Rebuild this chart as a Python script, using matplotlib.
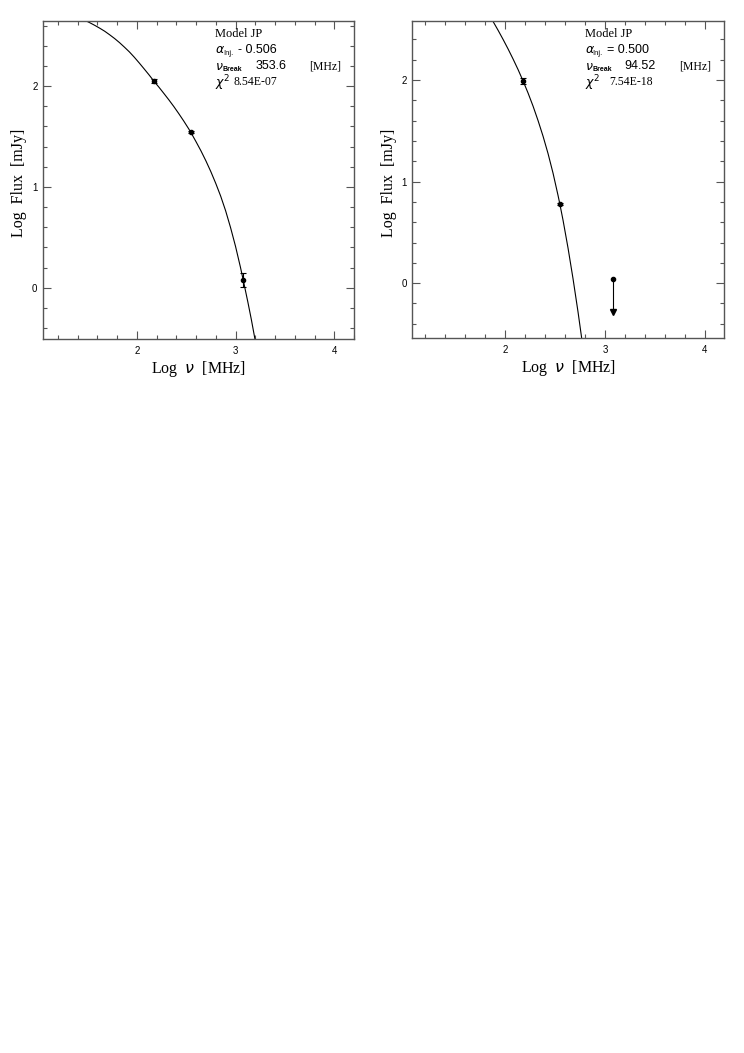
"""
Synchrotron spectra with JP model fits, two components side by side.
"""

import numpy as np
import matplotlib.pyplot as plt
from matplotlib.ticker import MultipleLocator

# ---- data ---------------------------------------------------------------
# left panel
left_nu = [2.175, 2.545, 3.077]
left_flux = [2.047, 1.544, 0.076]
left_err = [0.02, 0.01, 0.07]
left_model_x = [1.46, 1.525, 1.575, 1.625, 1.675, 1.725, 1.775, 1.825, 1.875,
                1.925, 1.975, 2.025, 2.075, 2.125, 2.175, 2.225, 2.275, 2.325,
                2.375, 2.425, 2.475, 2.525, 2.545, 2.60, 2.65, 2.70, 2.75,
                2.80, 2.85, 2.90, 2.95, 3.00, 3.05, 3.077, 3.125, 3.16, 3.20]
left_model_y = [2.659, 2.628, 2.602, 2.574, 2.544, 2.509, 2.472, 2.431, 2.386,
                2.339, 2.286, 2.229, 2.170, 2.110, 2.047, 1.988, 1.926, 1.863,
                1.797, 1.727, 1.654, 1.577, 1.545, 1.448, 1.357, 1.258, 1.151,
                1.034, 0.907, 0.762, 0.595, 0.410, 0.202, 0.080, -0.143,
                -0.315, -0.527]

# right panel
right_nu = [2.18, 2.547]
right_flux = [1.99, 0.778]
right_err = [0.03, 0.01]
right_lim_nu = [3.08]
right_lim_top = [0.04]
right_lim_bottom = [-0.28]
right_model_x = [1.83, 1.88, 1.93, 1.98, 2.03, 2.08, 2.13, 2.18, 2.23, 2.28,
                 2.33, 2.38, 2.43, 2.48, 2.53, 2.547, 2.58, 2.63, 2.68, 2.73,
                 2.78]
right_model_y = [2.657, 2.575, 2.489, 2.399, 2.305, 2.206, 2.102, 1.99, 1.871,
                 1.742, 1.600, 1.446, 1.275, 1.082, 0.863, 0.783, 0.619, 0.345,
                 0.043, -0.284, -0.637]

labels_left = dict(alpha="0.506", brk="353.6", chi="8.54E-07", sign="-",
                   x_alpha=0.627, x_chi=0.612)
labels_right = dict(alpha="0.500", brk="94.52", chi="7.54E-18", sign="=",
                    x_alpha=0.624, x_chi=0.631)

SERIF = ["Liberation Serif", "DejaVu Serif"]
SANS = ["Liberation Sans", "DejaVu Sans"]
FRAME = "#555555"


def style_axes(ax, xlim, ylim):
    ax.set_xlim(*xlim)
    ax.set_ylim(*ylim)
    ax.xaxis.set_major_locator(MultipleLocator(1))
    ax.yaxis.set_major_locator(MultipleLocator(1))
    ax.xaxis.set_minor_locator(MultipleLocator(0.2))
    ax.yaxis.set_minor_locator(MultipleLocator(0.2))
    ax.tick_params(which="both", direction="in", top=True, right=True,
                   color=FRAME, width=0.8)
    ax.tick_params(which="major", length=6, labelsize=7)
    ax.tick_params(axis="x", which="major", pad=5)
    ax.tick_params(axis="y", which="major", pad=4)
    ax.tick_params(which="minor", length=3)
    for lab in ax.get_xticklabels() + ax.get_yticklabels():
        lab.set_family(SANS)
    for sp in ax.spines.values():
        sp.set_color(FRAME)
        sp.set_linewidth(1.0)
    ax.set_xlabel(r"Log  $\nu$  [MHz]", family=SERIF, fontsize=11.5)
    ax.set_ylabel("Log  Flux  [mJy]", family=SERIF, fontsize=11.5)
    ax.xaxis.set_label_coords(0.5, -0.062)
    ax.yaxis.set_label_coords(-0.05, 0.49)


def model_text(ax, info, x0=0.553):
    t = ax.transAxes
    ax.text(x0, 0.959, "Model JP", transform=t, family=SERIF, fontsize=9,
            va="center")
    # alpha injection
    ax.text(x0, 0.909, r"$\alpha$", transform=t, fontsize=9, va="center")
    ax.text(x0 + 0.026, 0.897, "Inj.", transform=t, family=SANS,
            fontsize=5.5, va="center")
    ax.text(info["x_alpha"], 0.909, info["sign"] + " " + info["alpha"],
            transform=t, family=SANS, fontsize=9, va="center")
    # break frequency
    ax.text(x0, 0.858, r"$\nu$", transform=t, fontsize=9, va="center")
    ax.text(x0 + 0.024, 0.847, "Break", transform=t, family=SANS,
            fontsize=5, weight="bold", va="center")
    ax.text(0.682, 0.858, info["brk"], transform=t, family=SANS,
            fontsize=9, va="center")
    ax.text(0.855, 0.858, "[MHz]", transform=t, family=SERIF,
            fontsize=8.5, va="center")
    # chi square
    ax.text(x0, 0.805, r"$\chi^2$", transform=t, fontsize=9, va="center")
    ax.text(info["x_chi"], 0.807, info["chi"], transform=t, family=SERIF,
            fontsize=8.5, va="center")


fig = plt.figure(figsize=(7.44, 10.53), dpi=100)

# left panel
ax1 = fig.add_axes([0.0578, 0.678, 0.418, 0.302])
ax1.plot(left_model_x, left_model_y, color="black", lw=0.8)
ax1.errorbar(left_nu, left_flux, yerr=left_err, fmt="o", color="black",
             ms=3, elinewidth=0.8, capsize=2, capthick=0.8)
style_axes(ax1, (1.05, 4.2), (-0.51, 2.645))
model_text(ax1, labels_left)

# right panel
ax2 = fig.add_axes([0.554, 0.679, 0.419, 0.301])
ax2.plot(right_model_x, right_model_y, color="black", lw=0.8)
ax2.errorbar(right_nu, right_flux, yerr=right_err, fmt="o", color="black",
             ms=3, elinewidth=0.8, capsize=2, capthick=0.8)
for x, top, bot in zip(right_lim_nu, right_lim_top, right_lim_bottom):
    ax2.plot([x, x], [top, bot], color="black", lw=0.8)
    ax2.plot([x], [top], "o", color="black", ms=3)
    ax2.plot([x], [bot], "v", color="black", ms=4)
style_axes(ax2, (1.07, 4.19), (-0.54, 2.58))
model_text(ax2, labels_right)

fig.savefig("out.png", dpi=100)
